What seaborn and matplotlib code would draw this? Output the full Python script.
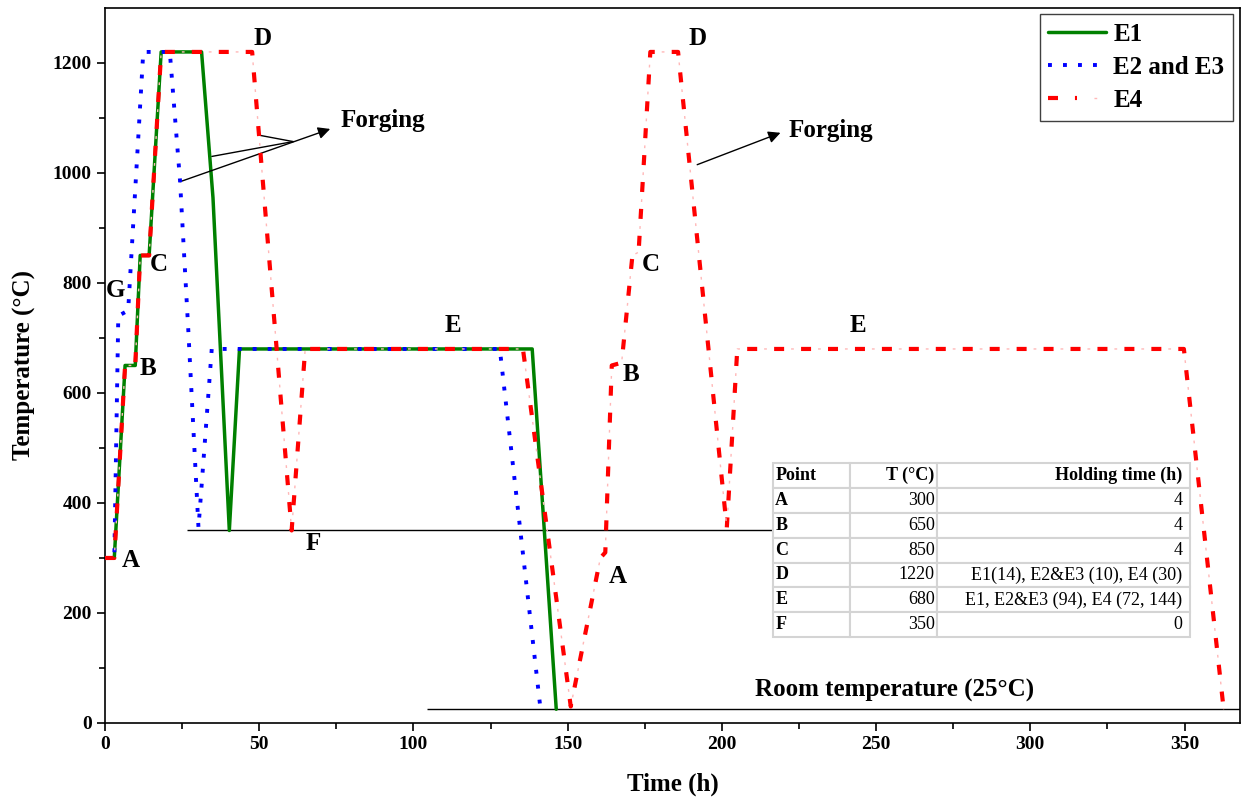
import matplotlib
matplotlib.use("Agg")
import matplotlib.pyplot as plt
import numpy as np
import pandas as pd
import seaborn as sns
from matplotlib.legend_handler import HandlerTuple

# heat treatment schedules (time in h, temperature in degC)
time_e1 = [0, 3, 6.5, 9.8, 11.4, 14.3, 18.2, 31.3, 35, 40.3, 43.6, 138.5, 146.3]
temp_e1 = [300, 300, 650, 650, 850, 850, 1220, 1220, 955, 350, 680, 680, 25]

time_e23 = [0, 3, 4.3, 7.5, 12.4, 21, 24.3, 27, 30.3, 34.6, 128, 141.2]
temp_e23 = [300, 300, 740, 750, 1220, 1220, 987, 714, 355, 680, 680, 25]

time_e4 = [0, 3, 6.5, 9.8, 11.4, 14.3, 18.2, 47.7, 60.5, 64.9, 135.5, 151,
           160.6, 162.2, 164.3, 167.5, 171, 173, 176.8, 185.8, 201.6, 205,
           349.8, 362.7]
temp_e4 = [300, 300, 650, 650, 850, 850, 1220, 1220, 350, 680, 680, 30,
           300, 310, 650, 655, 850, 856, 1220, 1220, 355, 680,
           680, 25]

# table of set points
tbl_points = ["A", "B", "C", "D", "E", "F"]
tbl_temps = ["300", "650", "850", "1220", "680", "350"]
tbl_hold = ["4", "4", "4", "E1(14), E2&E3 (10), E4 (30)",
            "E1, E2&E3 (94), E4 (72, 144)", "0"]

room_temp = 25
f_temp = 350

sns.set_theme(style="ticks")
plt.rcParams["font.family"] = ["Liberation Serif", "DejaVu Serif"]
plt.rcParams["font.weight"] = "bold"
plt.rcParams["axes.labelweight"] = "bold"
plt.rcParams["text.color"] = "black"
plt.rcParams["axes.labelcolor"] = "black"
plt.rcParams["lines.scale_dashes"] = False

df1 = pd.DataFrame({"t": time_e1, "T": temp_e1})
df23 = pd.DataFrame({"t": time_e23, "T": temp_e23})
df4 = pd.DataFrame({"t": time_e4, "T": temp_e4})

fig = plt.figure(figsize=(12.43, 8.01), dpi=100)
ax = fig.add_axes([0.0845, 0.0974, 0.9131, 0.8927])

# reference lines (F and room temperature)
ax.hlines(f_temp, 26.6, 216.7, color="black", lw=1.0, zorder=1)
ax.hlines(room_temp, 104.4, 368, color="black", lw=1.0, zorder=1)

##### lines #####
sns.lineplot(data=df1, x="t", y="T", ax=ax, sort=False, estimator=None,
             color="#008000", lw=2.5, zorder=3)
l1 = ax.lines[-1]

sns.lineplot(data=df23, x="t", y="T", ax=ax, sort=False, estimator=None,
             color="#0000ff", lw=2.8, zorder=4)
l2 = ax.lines[-1]
l2.set_dashes((2.8, 8.0))

sns.lineplot(data=df4, x="t", y="T", ax=ax, sort=False, estimator=None,
             color="#ff0000", lw=3.0, zorder=5)
l3 = ax.lines[-1]
l3.set_dashes((7.2, 12.2))
# faint dots between the red dashes
sns.lineplot(data=df4, x="t", y="T", ax=ax, sort=False, estimator=None,
             color="#ffb8b8", lw=1.0, zorder=5)
l3b = ax.lines[-1]
l3b.set_linestyle((7.2, (2.0, 17.4)))

ax.set_xlim(0, 368)
ax.set_ylim(0, 1300)
ax.set_xticks(np.arange(0, 351, 50))
ax.set_xticks(np.arange(25, 368, 50), minor=True)
ax.set_yticks(np.arange(0, 1201, 200))
ax.set_yticks(np.arange(100, 1300, 200), minor=True)
ax.tick_params(which="major", direction="out", length=6, width=1.2,
               labelsize=14, colors="black")
ax.tick_params(which="minor", direction="out", length=4, width=1.2, colors="black")
for lab in ax.get_xticklabels() + ax.get_yticklabels():
    lab.set_fontweight("bold")
for sp in ax.spines.values():
    sp.set_visible(True)
    sp.set_linewidth(1.2)
    sp.set_color("black")

ax.set_xlabel("Time (h)", fontsize=18, fontweight="bold", labelpad=14)
ax.set_ylabel("Temperature (°C)", fontsize=18, fontweight="bold", labelpad=12)

##### point labels #####
lbl = dict(fontsize=18, fontweight="bold", ha="center", va="center",
           color="black", zorder=6)
for txt, x, y in [("D", 51.2, 1245), ("D", 192, 1245), ("G", 3.4, 787),
                  ("C", 17.4, 833), ("B", 14, 645), ("A", 8.4, 296),
                  ("F", 67.5, 327), ("E", 112.9, 722), ("E", 244, 722),
                  ("A", 166.4, 267), ("B", 170.6, 633), ("C", 176.8, 833)]:
    ax.text(x, y, txt, **lbl)

ax.text(256, 60, "Room temperature (25°C)", **lbl)
ax.text(76.2, 1095, "Forging", fontsize=18, fontweight="bold", ha="left",
        va="center", color="black")
ax.text(221.5, 1078, "Forging", fontsize=18, fontweight="bold", ha="left",
        va="center", color="black")

# forging arrows
arw = dict(arrowstyle="-|>", color="black", lw=1.0, mutation_scale=18,
           shrinkA=0, shrinkB=0)
ax.annotate("", xy=(73, 1080), xytext=(24.3, 984), arrowprops=arw)
ax.plot([34.6, 61], [1030, 1057], color="black", lw=1.0)
ax.plot([49.6, 61], [1069, 1057], color="black", lw=1.0)
ax.annotate("", xy=(219, 1073), xytext=(192, 1015), arrowprops=arw)

##### table #####
cells = [[p, t, h] for p, t, h in zip(tbl_points, tbl_temps, tbl_hold)]
tb = ax.table(cellText=cells, colLabels=["Point", "T (°C)", "Holding time (h)"],
              colWidths=[0.185, 0.209, 0.606],
              bbox=[0.5885, 0.120, 0.3675, 0.2436], zorder=7)
tb.auto_set_font_size(False)
for (r, c), cell in tb.get_celld().items():
    cell.set_edgecolor("#d4d4d4")
    cell.set_linewidth(1.5)
    cell.set_facecolor("white")
    t = cell.get_text()
    t.set_fontsize(13)
    t.set_color("black")
    t.set_fontweight("bold" if (r == 0 or c == 0) else "normal")
    cell._loc = "left" if c == 0 else "right"
    cell.PAD = 0.03
    t.set_ha("left" if c == 0 else "right")

##### legend #####
leg = ax.legend([l1, l2, (l3, l3b)], ["E1", "E2 and E3", "E4"],
                handler_map={tuple: HandlerTuple(ndivide=None, pad=0)},
                loc="upper right", bbox_to_anchor=(0.994, 0.991),
                borderaxespad=0, fancybox=False, framealpha=1,
                edgecolor="#404040", prop={"size": 18, "weight": "bold"},
                handlelength=2.3, handletextpad=0.3, labelspacing=0.4,
                borderpad=0.35)
leg.get_frame().set_linewidth(1.0)
leg.set_zorder(8)

plt.savefig("out.png", dpi=100)
